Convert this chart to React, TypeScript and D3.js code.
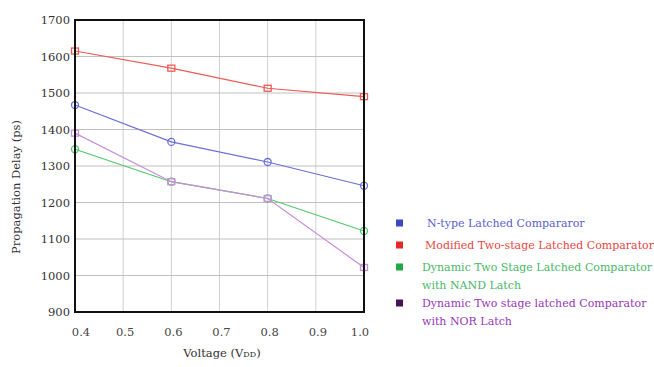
import { useRef, useEffect } from "react";
import * as d3 from "d3";

const voltages = [0.4, 0.6, 0.8, 1.0];
const xTicks = [0.4, 0.5, 0.6, 0.7, 0.8, 0.9, 1.0];
const yTicks = [900, 1000, 1100, 1200, 1300, 1400, 1500, 1600, 1700];

const nType = [1467, 1366, 1311, 1246];
const modified = [1615, 1568, 1513, 1490];
const nandLatch = [1346, 1257, 1211, 1122];
const norLatch = [1390, 1257, 1211, 1022];

const seriesList = [
  { name: ["N-type Latched Compararor"], values: nType, line: "#6a70d8", text: "#5a60d0", box: "#3a48c8", marker: "circle" },
  { name: ["Modified Two-stage Latched Comparator"], values: modified, line: "#ee5a55", text: "#e8463f", box: "#e82828", marker: "square" },
  { name: ["Dynamic Two Stage Latched Comparator", "with NAND Latch"], values: nandLatch, line: "#52c86a", text: "#48b868", box: "#22a848", marker: "circle" },
  { name: ["Dynamic Two stage latched Comparator", "with NOR Latch"], values: norLatch, line: "#c890d8", text: "#9838b8", box: "#4a1058", marker: "square" },
];

export default function App() {
  const svgRef = useRef(null);

  useEffect(() => {
    const width = 654, height = 367;
    const margin = { left: 75, right: 290, top: 20, bottom: 55 };
    const svg = d3.select(svgRef.current);
    svg.attr("viewBox", [0, 0, width, height]);
    svg.selectAll("*").remove();

    const x = d3.scaleLinear().domain([0.4, 1.0]).range([margin.left, width - margin.right]);
    const y = d3.scaleLinear().domain([900, 1700]).range([height - margin.bottom, margin.top]);

    const font = "'DejaVu Serif', serif";

    // grid
    svg.append("g")
      .selectAll("line")
      .data(xTicks)
      .join("line")
      .attr("x1", d => x(d)).attr("x2", d => x(d))
      .attr("y1", margin.top).attr("y2", height - margin.bottom)
      .attr("stroke", "#d0d0d0").attr("stroke-width", 1);
    svg.append("g")
      .selectAll("line")
      .data(yTicks)
      .join("line")
      .attr("x1", margin.left).attr("x2", width - margin.right)
      .attr("y1", d => y(d)).attr("y2", d => y(d))
      .attr("stroke", "#c0c0c0").attr("stroke-width", 1);

    // series
    const line = d3.line<number>()
      .x((_, i) => x(voltages[i]))
      .y(d => y(d));

    seriesList.forEach(s => {
      svg.append("path")
        .datum(s.values)
        .attr("d", line)
        .attr("fill", "none")
        .attr("stroke", s.line)
        .attr("stroke-width", 1.2);
      const g = svg.append("g");
      s.values.forEach((v, i) => {
        if (s.marker == "circle") {
          g.append("circle")
            .attr("cx", x(voltages[i])).attr("cy", y(v)).attr("r", 3.5)
            .attr("fill", "none").attr("stroke", s.line).attr("stroke-width", 1.3);
        } else {
          g.append("rect")
            .attr("x", x(voltages[i]) - 3.5).attr("y", y(v) - 3).attr("width", 7).attr("height", 6)
            .attr("fill", "none").attr("stroke", s.line).attr("stroke-width", 1.3);
        }
      });
    });

    // frame
    svg.append("rect")
      .attr("x", margin.left).attr("y", margin.top)
      .attr("width", width - margin.left - margin.right)
      .attr("height", height - margin.top - margin.bottom)
      .attr("fill", "none").attr("stroke", "#111").attr("stroke-width", 2);

    // y tick labels
    svg.append("g")
      .selectAll("text")
      .data(yTicks)
      .join("text")
      .attr("x", margin.left - 5)
      .attr("y", d => y(d) + 4)
      .attr("text-anchor", "end")
      .attr("font-family", font).attr("font-size", 11.5).attr("fill", "#333")
      .text(d => d);

    // x tick labels
    svg.append("g")
      .selectAll("text")
      .data(xTicks)
      .join("text")
      .attr("x", d => x(d) + (d == 0.4 ? 6 : d == 1.0 ? -4 : 2))
      .attr("y", height - margin.bottom + 24)
      .attr("text-anchor", "middle")
      .attr("font-family", font).attr("font-size", 11.5).attr("fill", "#444")
      .text(d => d.toFixed(1));

    // axis titles
    const xt = svg.append("text")
      .attr("x", 222).attr("y", 357)
      .attr("text-anchor", "middle")
      .attr("font-family", font).attr("font-size", 11.5).attr("fill", "#333")
      .text("Voltage (V");
    xt.append("tspan").attr("font-size", 8).text("DD");
    xt.append("tspan").text(")");

    svg.append("text")
      .attr("transform", "translate(20,187) rotate(-90)")
      .attr("text-anchor", "middle")
      .attr("font-family", font).attr("font-size", 11.5).attr("fill", "#333")
      .text("Propagation Delay (ps)");

    // legend
    const legendY = [223, 245, 267, 303];
    const textX = [427, 425, 422, 422];
    seriesList.forEach((s, i) => {
      svg.append("rect")
        .attr("x", 396).attr("y", legendY[i] - 3.5)
        .attr("width", 7).attr("height", 7)
        .attr("fill", s.box);
      s.name.forEach((t, j) => {
        svg.append("text")
          .attr("x", textX[i]).attr("y", legendY[i] + 4 + j * 18)
          .attr("font-family", font).attr("font-size", 11).attr("fill", s.text)
          .text(t);
      });
    });
  }, []);

  return (
    <svg ref={svgRef} width={654} height={367} style={{ position: "absolute", left: 0, top: 0 }}>
    </svg>
  );
}
